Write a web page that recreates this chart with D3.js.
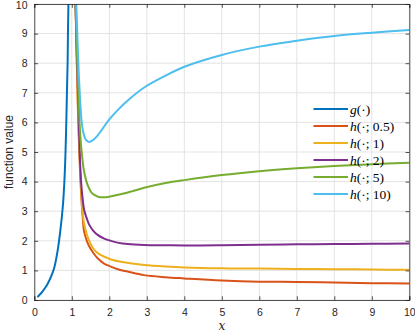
<!DOCTYPE html>
<html><head><meta charset="utf-8">
<script src="https://cdn.jsdelivr.net/npm/d3@7"></script>
<style>body{margin:0;background:#fff}svg{display:block}</style>
</head><body>
<svg id="c" width="415" height="333"></svg>
<script>
const xTicks = [0,1,2,3,4,5,6,7,8,9,10];
const yTicks = [0,1,2,3,4,5,6,7,8,9,10];
const seriesNames = ["g", "h05", "h1", "h2", "h5", "h10"];
const legendMain = ["g", "h", "h", "h", "h", "h"];
const legendArgs = ["(·)", "(·; 0.5)", "(·; 1)", "(·; 2)", "(·; 5)", "(·; 10)"];
const colors = ["#0072BD", "#D95319", "#EDB120", "#7E2F8E", "#77AC30", "#4DBEEE"];

const gX = [0.1,0.13,0.2,0.3,0.36,0.45,0.53,0.62,0.69,0.76,0.8,0.83,0.853,0.87,0.888,0.897,0.91];
const gY = [0.12,0.16,0.26,0.43,0.56,0.8,1.08,1.65,2.3,3.15,3.95,4.9,6,7,8,9,10];

const h05X = [1.1,1.13,1.16,1.2,1.24,1.29,1.33,1.4,1.47,1.58,1.69,1.85,2.04,2.25,2.49,2.93,3.5,4,5,6,7,8,9,10];
const h05Y = [10,8.2,6.6,5.0,3.8,2.8,2.3,2.0,1.8,1.58,1.41,1.24,1.13,1.03,0.96,0.84,0.77,0.73,0.66,0.62,0.61,0.59,0.57,0.56];

const h1X = [1.1,1.13,1.16,1.2,1.24,1.29,1.35,1.42,1.5,1.6,1.73,1.87,2.05,2.31,2.6,2.93,3.5,4,5,6,7,8,9,10];
const h1Y = [10,8.3,6.8,5.1,4.0,2.9,2.45,2.14,1.9,1.69,1.55,1.46,1.37,1.29,1.23,1.18,1.13,1.1,1.07,1.06,1.05,1.04,1.03,1.02];

const h2X = [1.1,1.13,1.17,1.21,1.25,1.29,1.33,1.4,1.47,1.58,1.69,1.85,2.04,2.25,2.49,2.93,3.5,4,5,6,7,8,9,10];
const h2Y = [10,8.5,6.8,5.0,3.95,3.4,3.04,2.75,2.53,2.33,2.2,2.08,2.0,1.93,1.89,1.86,1.85,1.84,1.85,1.87,1.88,1.89,1.9,1.91];

const h5X = [1.1,1.14,1.18,1.23,1.28,1.32,1.38,1.45,1.52,1.6,1.7,1.82,2.0,2.3,2.6,2.93,3.5,4,5,6,7,8,9,10];
const h5Y = [10,8.3,6.8,5.5,4.8,4.4,4.05,3.8,3.64,3.55,3.49,3.47,3.49,3.57,3.67,3.79,3.95,4.05,4.22,4.35,4.45,4.53,4.59,4.64];

const h10X = [1.12,1.15,1.18,1.22,1.26,1.3,1.35,1.4,1.47,1.55,1.67,1.8,2.0,2.25,2.5,2.93,3.5,4,5,6,7,8,9,10];
const h10Y = [10,8.9,7.8,6.8,6.05,5.7,5.48,5.38,5.34,5.39,5.53,5.75,6.1,6.45,6.75,7.18,7.58,7.88,8.28,8.56,8.76,8.92,9.03,9.12];

const allX = [gX, h05X, h1X, h2X, h5X, h10X];
const allY = [gY, h05Y, h1Y, h2Y, h5Y, h10Y];

const svg = d3.select("#c");
const L = 34.3, R = 409.3, T = 4, B = 300;
const x = d3.scaleLinear().domain([0,10]).range([L,R]);
const y = d3.scaleLinear().domain([0,10]).range([B,T]);
const axCol = "#262626";
const tickFont = "Liberation Sans, Arial, sans-serif";

// grid
const grid = svg.append("g").attr("stroke","#e3e3e3").attr("stroke-width",1);
xTicks.forEach(t => grid.append("line").attr("x1",x(t)).attr("x2",x(t)).attr("y1",T).attr("y2",B));
yTicks.forEach(t => grid.append("line").attr("y1",y(t)).attr("y2",y(t)).attr("x1",L).attr("x2",R));

svg.append("defs").append("clipPath").attr("id","clip")
  .append("rect").attr("x",L).attr("y",T).attr("width",R-L).attr("height",B-T);

const line = d3.line().x(d=>x(d[0])).y(d=>y(d[1])).curve(d3.curveCatmullRom.alpha(0.5));
const plot = svg.append("g").attr("clip-path","url(#clip)");
allX.forEach((xs,i) => {
  const pts = xs.map((v,j)=>[v, allY[i][j]]);
  plot.append("path").attr("d", line(pts)).attr("fill","none")
    .attr("stroke", colors[i]).attr("stroke-width", 2).attr("stroke-linejoin","round").attr("stroke-linecap","round");
});

// axes (box with inward ticks)
const tl = 3.75;
const axB = d3.axisBottom(x).tickValues(xTicks).tickSize(-tl).tickPadding(tl+5).tickFormat(d3.format("d"));
const axL = d3.axisLeft(y).tickValues(yTicks).tickSize(-tl).tickPadding(tl+3).tickFormat(d3.format("d"));
const axT = d3.axisTop(x).tickValues(xTicks).tickSize(-tl).tickFormat("");
const axR = d3.axisRight(y).tickValues(yTicks).tickSize(-tl).tickFormat("");
function style(g){
  g.select(".domain").attr("stroke",axCol).attr("stroke-width",0.8);
  g.selectAll(".tick line").attr("stroke",axCol).attr("stroke-width",0.8);
  g.selectAll(".tick text").attr("fill",axCol).attr("font-family",tickFont).attr("font-size",10.5);
}
svg.append("g").attr("transform",`translate(0,${B})`).call(axB).call(style);
const gl = svg.append("g").attr("transform",`translate(${L},0)`).call(axL).call(style);
gl.selectAll(".tick text").filter(d => d === 10).attr("dy","0.42em");
svg.append("g").attr("transform",`translate(0,${T})`).call(axT).call(style);
svg.append("g").attr("transform",`translate(${R},0)`).call(axR).call(style);

// axis labels
svg.append("text").attr("x",x(5)).attr("y",330).attr("text-anchor","middle")
  .attr("font-family","DejaVu Serif, Liberation Serif, serif").attr("font-style","italic")
  .attr("font-size",12).attr("fill",axCol).text("x");
svg.append("text").attr("transform",`translate(13,${(T+B)/2}) rotate(-90)`).attr("text-anchor","middle")
  .attr("font-family",tickFont).attr("font-size",12).attr("fill",axCol).text("function value");

// legend
const lg = svg.append("g");
const ly0 = 109, ldy = 17;
seriesNames.forEach((s,i) => {
  const yy = ly0 + i*ldy;
  lg.append("line").attr("x1",313.5).attr("x2",348).attr("y1",yy).attr("y2",yy)
    .attr("stroke",colors[i]).attr("stroke-width",2);
  const t = lg.append("text").attr("x",350).attr("y",yy+4.5)
    .attr("font-family","Liberation Serif, DejaVu Serif, serif").attr("font-size",13.5).attr("fill","#000");
  t.append("tspan").attr("font-style","italic").text(legendMain[i]);
  t.append("tspan").text(legendArgs[i]);
});
</script>
</body></html>
